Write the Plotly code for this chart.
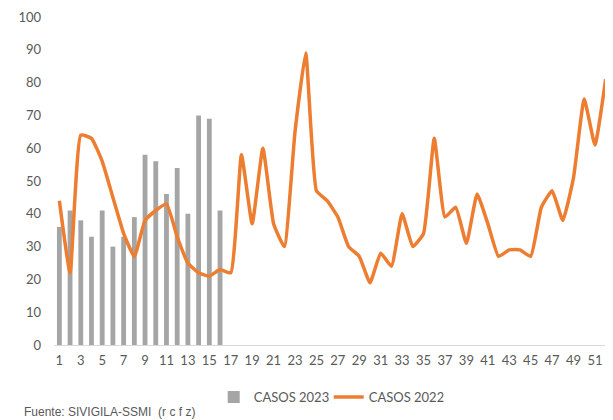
import plotly.graph_objects as go

weeks_2023 = list(range(1, 17))
casos_2023 = [36, 41, 38, 33, 41, 30, 33, 39, 58, 56, 46, 54, 40, 70, 69, 41]

weeks_2022 = list(range(1, 53))
casos_2022 = [44, 22, 64, 63, 56, 45, 34, 27, 38, 41, 43, 33, 25, 22, 21, 23, 22,
              58, 37, 60, 37, 30, 65, 89, 47, 44, 39, 30, 27, 19, 28, 24, 40, 30,
              34, 63, 39, 42, 31, 46, 37, 27, 29, 29, 27, 42, 47, 38, 51, 75, 61, 81]

x_tick_vals = list(range(1, 53, 2))
x_tick_text = [str(v) for v in x_tick_vals]
y_tick_vals = list(range(0, 101, 10))

FONT = "Lato"
GRAY = "#595959"

fig = go.Figure()
fig.add_trace(go.Bar(
    x=weeks_2023, y=casos_2023, name="CASOS 2023",
    marker=dict(color="#A5A5A5", line=dict(width=0)),
))
fig.add_trace(go.Scatter(
    x=weeks_2022, y=casos_2022, name="CASOS 2022", mode="lines",
    line=dict(color="#ED7D31", width=3.5, shape="spline", smoothing=0.4),
))

fig.update_layout(
    width=605, height=412,
    margin=dict(l=46, r=2, t=9, b=75),
    paper_bgcolor="white", plot_bgcolor="white",
    bargap=0.55,
    font=dict(family=FONT, size=13, color=GRAY),
    showlegend=True,
    legend=dict(orientation="h", x=0.34, xref="container", y=0.056, yref="container",
                xanchor="left", yanchor="middle",
                font=dict(family=FONT, size=13, color=GRAY),
                itemwidth=30, entrywidth=70, entrywidthmode="pixels",
                tracegroupgap=0, bgcolor="rgba(0,0,0,0)"),
    xaxis=dict(
        range=[0.5, 52.5], tickmode="array", tickvals=x_tick_vals, ticktext=x_tick_text,
        showgrid=False, zeroline=False, showline=True, linecolor="#D9D9D9", linewidth=1,
        ticks="", tickfont=dict(family=FONT, size=13, color=GRAY), tickangle=0,
        ticklabelstandoff=3,
    ),
    yaxis=dict(
        range=[0, 100], tickmode="array", tickvals=y_tick_vals,
        showgrid=False, zeroline=False, showline=False, ticks="",
        tickfont=dict(family=FONT, size=13, color=GRAY), ticklabelstandoff=12,
    ),
    annotations=[dict(
        text="Fuente: SIVIGILA-SSMI  (r c f z)", xref="paper", yref="paper",
        x=-0.0575, y=-0.203, xanchor="left", yanchor="middle", showarrow=False,
        font=dict(family="Liberation Sans Narrow, Liberation Sans", size=12, color=GRAY),
    )],
)

fig.write_html("out.html")
